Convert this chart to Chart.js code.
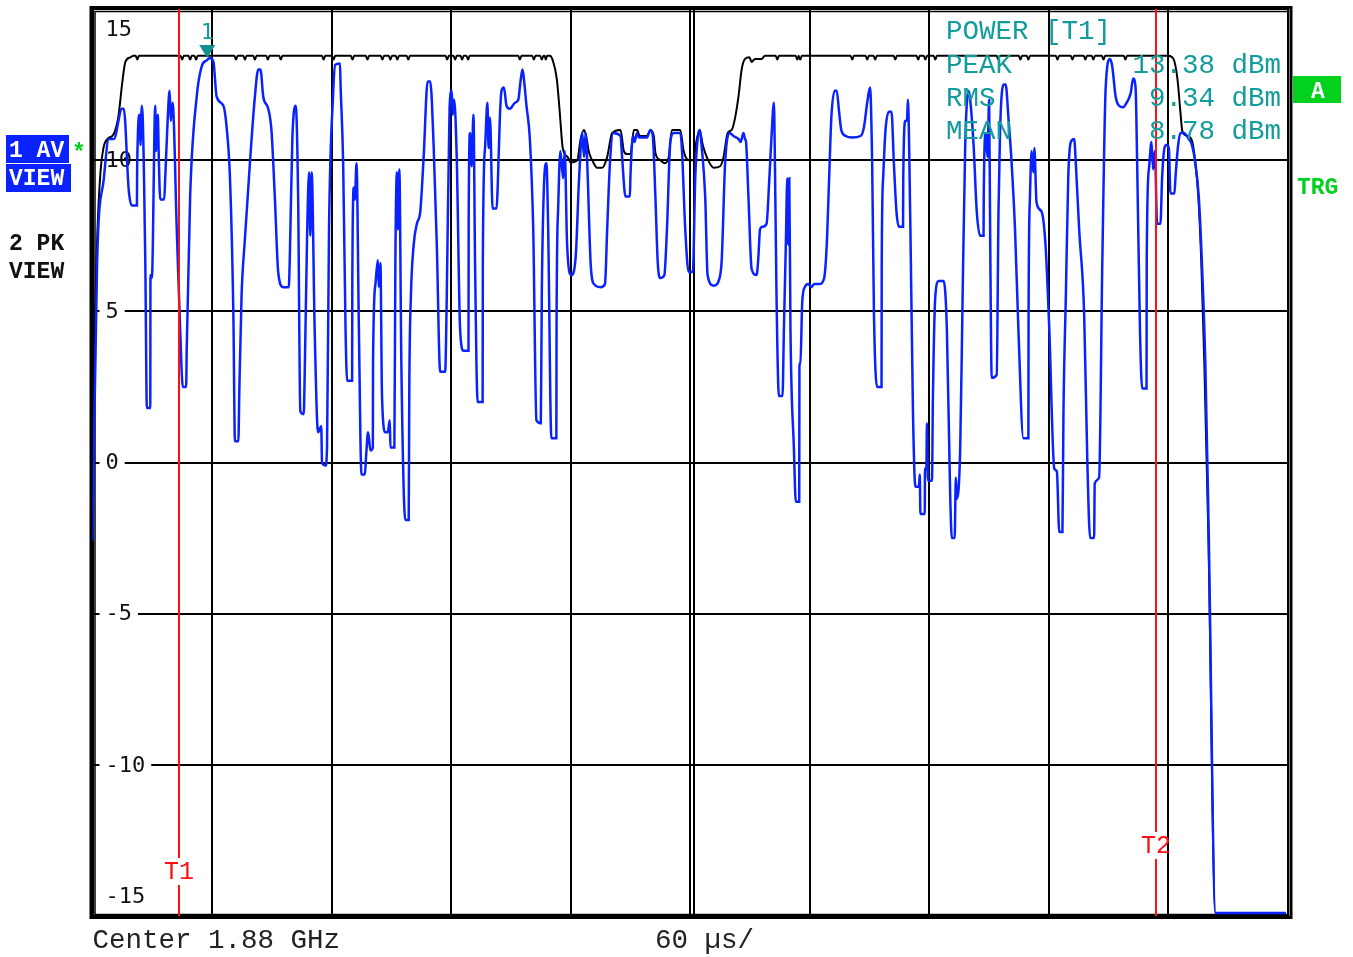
<!DOCTYPE html>
<html>
<head>
<meta charset="utf-8">
<script src="https://cdn.jsdelivr.net/npm/chart.js@4.4.1/dist/chart.umd.min.js"></script>
<style>
html, body { margin: 0; padding: 0; background: #fff; overflow: hidden; }
canvas { display: block; }
</style>
</head>
<body>
<canvas id="myChart" width="1353" height="957"></canvas>
<script>
// time in µs (60 µs/div, 10 div), level in dBm
var levelTicks = [15, 10, 5, 0, -5, -10, -15];
var timeTicks = [0, 60, 120, 180, 240, 300, 360, 420, 480, 540, 600];
var centreLine = 302;          // second line next to the centre division
var gateTimes = [43.4, 534];   // T1, T2
var gateNames = ['T1', 'T2'];
var markerTime = 57.6;
var markerLevel = 13.38;
var powerNames = ['PEAK', 'RMS', 'MEAN'];
var powerValues = ['13.38 dBm', '9.34 dBm', '8.78 dBm'];

// trace 1: AV (blue)
var avPoints = [
  [0,-2.6],[2.3,6.6],[5.7,9.4],[8.2,10.7],[10.7,10.7],[14.8,11.7],[15.7,11.7],[18.2,9.0],[19.8,8.5],[22.3,8.5],
  [22.4,9.7],[23.7,11.5],[24,10.5],[24.8,11.8],[26.5,6.6],[27.3,1.8],[29,1.8],[29.1,6.2],[29.8,6.1],[31.5,11.8],
  [31.8,10.3],[32.8,11.5],[33.2,10.3],[34,8.7],[36,8.7],[36.5,9.4],[37.7,11.3],[38.7,12.3],[39.3,11.3],[40.2,11.9],
  [42.3,7.7],[44,4.4],[45.3,2.5],[47,2.5],[47.3,3.8],[49,8.8],[52.3,12.1],[54.8,13.1],[57.3,13.3],[59,13.38],
  [60.7,13.25],[62.3,12.1],[65.7,11.8],[67.3,11.1],[69,9.4],[70.7,4.9],[71.5,0.7],[73.2,0.7],[73.7,2.4],[74.8,5.5],
  [76.5,7.4],[79,9.9],[81.5,12.1],[83.2,13.0],[84.3,13.0],[85.7,12.1],[88.2,11.7],[89.8,11.0],[91.5,8.8],[93.2,6.3],
  [95.7,5.8],[98.5,5.8],[99,6.7],[100.3,10.7],[102,11.8],[103.2,8.8],[104.3,1.7],[106,1.6],[106.5,2.9],[107.7,7.5],
  [108.7,9.6],[109.3,7.5],[110,9.6],[111.5,4.4],[113.2,1.0],[114.8,1.2],[115.2,0],[117,-0.1],[117.7,0.5],[118.7,7.7],
  [120.7,12.1],[121.8,13.15],[124.2,13.2],[124.5,12.5],[125.8,9.9],[127,4.4],[127.8,2.7],[130.3,2.7],[130.4,6.1],[131.2,9.1],
  [131.7,8.7],[132.5,9.9],[133.7,4.4],[135,-0.4],[136.7,-0.4],[137.3,0.2],[138.3,1.0],[139.5,0.4],[140.7,0.5],[140.8,3.3],
  [142,5.9],[143.2,6.7],[143.7,5.8],[144.5,6.6],[145.3,2.2],[147,1.0],[148.2,1.0],[149.2,1.4],[149.5,0.5],[151.5,0.5],
  [152,6.6],[152.8,9.6],[153.3,7.7],[154,9.7],[155,3.3],[157,-1.9],[158.7,-1.9],[159,2.5],[159.8,5.5],[161.2,7.2],
  [162.8,7.9],[164.5,8.3],[166.2,10.1],[168.2,12.6],[169.5,12.6],[171.2,10.5],[172.8,7.2],[174.5,3.0],[177,3.0],[177.8,5.5],
  [179.2,11.7],[180.3,12.3],[180.8,11.5],[181.5,12.0],[182.8,10.1],[184.5,4.4],[186.2,3.7],[188.7,3.7],[188.8,8.0],[189.5,10.9],
  [190.3,9.8],[191.2,11.5],[192,6.6],[193.3,2.0],[195.8,2.0],[195.9,6.6],[197,10.4],[198.2,11.9],[198.8,10.4],[199.5,11.4],
  [200.8,8.4],[202.8,8.4],[203.3,9.0],[204.5,11.5],[205.3,12.3],[206.5,12.4],[207.8,11.8],[209.5,11.7],[212,11.9],[213.7,12.0],
  [214.8,12.6],[215.8,13.0],[216.5,12.7],[217.8,11.8],[219.5,10.7],[221.2,7.7],[222.8,1.4],[225,1.3],[225.5,5.6],[226.5,9.0],
  [227.8,9.9],[228.7,7.7],[230.3,0.8],[232.8,0.8],[232.9,4.5],[233.7,8.4],[234.8,10.3],[236.2,9.4],[237,10.3],[238.2,7.2],
  [240.3,6.2],[242.5,6.8],[244.2,9.4],[245.8,10.9],[246.7,10.1],[247.5,10.9],[248.3,9.9],[250,6.6],[251.7,5.9],[255,5.8],
  [257.2,5.9],[258.3,7.7],[259.7,9.9],[261.3,10.9],[265,10.8],[265.8,10.1],[267.5,8.8],[269.7,8.8],[270,9.5],[271.3,10.8],
  [272,10.6],[273.3,10.9],[274.2,10.75],[278.3,10.75],[280,11.0],[281.2,10.8],[282.5,8.8],[283.7,6.6],[285,6.1],[287,6.2],
  [288.3,7.7],[290,10.6],[291.7,10.9],[295,10.9],[295.8,10.4],[297.5,7.7],[299.2,6.3],[301.3,6.3],[302.5,9.4],[303.7,10.7],
  [304.7,11.0],[305.8,10.4],[307.5,8.8],[308.7,6.2],[311.7,5.85],[314.7,6.1],[315.8,6.7],[317.5,9.9],[319.7,10.9],[321.7,10.8],
  [324.2,10.7],[325.3,10.6],[326.7,10.9],[327.5,10.7],[328,10.6],[329.2,8.8],[330.8,6.4],[333.3,6.2],[334.2,6.8],[335,7.7],
  [336.3,7.8],[338.3,7.9],[339.7,9.4],[340.8,10.8],[342,11.9],[342.5,9.9],[343.3,5.5],[344.5,2.2],[346.3,2.2],[347,4.4],
  [348,7.3],[348.7,9.4],[349.2,7.2],[349.7,9.4],[350.3,4.4],[352,0.5],[353,-1.3],[354.7,-1.3],[354.8,3.2],[355.3,3.3],
  [356.2,5.3],[357.5,5.8],[359.2,5.9],[360.8,5.8],[362.2,5.9],[364.7,5.9],[367.2,6.1],[368.5,7.2],[369.7,9.4],[370.8,11.4],
  [372.5,12.3],[373.5,12.3],[374.7,11.6],[375.8,11.0],[378,10.8],[381.3,10.75],[385.5,10.8],[387.2,11.1],[388.8,11.9],[390.2,12.4],
  [391.3,9.9],[392.2,4.9],[393.8,2.5],[396,2.5],[396.1,6.6],[396.8,9.4],[398,11.0],[399.7,11.6],[401,11.6],[402.2,9.9],
  [403.5,8.3],[404.7,7.8],[406.8,7.8],[406.9,9.4],[408,11.3],[408.8,11.3],[409.2,12.0],[410.5,7.7],[411.8,1.6],[413,-0.8],
  [414.7,-0.8],[415.2,-0.4],[415.5,-1.7],[417.7,-1.7],[417.8,-0.2],[418.5,-0.2],[418.8,1.3],[419.3,-0.6],[421.3,-0.6],[421.8,2.2],
  [423,5.5],[424.7,6.0],[427.2,6.0],[428.8,4.4],[430.5,-1.2],[431.3,-2.5],[432.7,-2.5],[433.3,-0.5],[433.8,-1.2],[435.5,0.5],
  [436.7,5.5],[438,10.5],[439.7,12.3],[440.5,12.0],[442.2,10.5],[443.8,8.3],[445.5,7.5],[447.2,7.5],[447.3,8.8],[448.3,10.9],
  [449.2,10.1],[450,12.0],[450.5,7.7],[451.3,2.8],[453.8,2.9],[454.7,8.3],[455.5,11.0],[457.2,12.5],[458.3,12.5],[459.7,11.4],
  [461.3,9.9],[463,7.7],[464.7,4.4],[467.2,0.8],[469.7,0.8],[469.8,4.9],[470.5,8.8],[471.3,10.3],[472.2,9.6],[472.7,10.4],
  [473.8,8.6],[476.3,8.3],[478.3,7.2],[480.2,4.4],[482.7,-0.2],[484,-0.3],[485.2,-2.3],[486.8,-2.3],[487.3,1.6],[488.5,5.5],
  [489.7,9.4],[491,10.6],[492.7,10.7],[493.5,9.9],[495.2,7.7],[497.7,4.9],[499.3,0],[500.7,-2.5],[502.7,-2.5],[503,-0.7],
  [505.2,-0.5],[506.8,6.6],[508.5,12.4],[510.7,13.35],[511.8,13.1],[513.5,12.1],[515.2,11.8],[517.3,11.75],[519,11.9],[521,12.2],
  [522.3,12.7],[523.5,12.4],[524.3,9.9],[525.7,4.4],[526.8,2.45],[529,2.45],[529.1,6.7],[530.2,9.7],[531.5,10.6],[532.3,9.7],
  [533.2,10.3],[534.3,7.9],[536,7.9],[536.8,9.4],[538,10.4],[539,10.5],[540.2,10.4],[541,8.9],[543,8.9],[543.5,9.4],
  [544.7,10.4],[546,10.9],[547.7,10.9],[550.2,10.7],[551.8,10.5],[553.5,9.9],[555.2,8.8],[556.8,6.6],[558.5,3.3],[560.2,-2.3],
  [563.6,-14.9],[599,-14.9]
];

// trace 2: PK (black)
var pkPoints = [
  [0,-1.5],[1.5,5.4],[2.5,7.7],[4,9.6],[5.5,10.4],[7.5,10.7],[10.5,10.85],[13,11.45],[15,12.6],[16.5,13.25],[19,13.4],[20.5,13.45],
  [21.7,13.45],[22.5,13.33],[23.3,13.45],[44.2,13.45],[45,13.33],[45.8,13.45],[48.2,13.45],[49,13.33],[49.8,13.45],
  [51.2,13.45],[52,13.33],[52.8,13.45],[71.2,13.45],[72,13.33],[72.8,13.45],[75.7,13.45],[76.5,13.33],[77.3,13.45],
  [80.7,13.45],[81.5,13.33],[82.3,13.45],[87.2,13.45],[88,13.33],[88.8,13.45],[93.7,13.45],[94.5,13.33],[95.3,13.45],
  [115.2,13.45],[116,13.33],[116.8,13.45],[120.2,13.45],[121,13.33],[121.8,13.45],[129.7,13.45],[130.5,13.33],[131.3,13.45],
  [137.2,13.45],[138,13.33],[138.8,13.45],[144.7,13.45],[145.5,13.33],[146.3,13.45],[148.7,13.45],[149.5,13.33],[150.3,13.45],
  [152.2,13.45],[153,13.33],[153.8,13.45],[157.7,13.45],[158.5,13.33],[159.3,13.45],[177.2,13.45],[178,13.33],[178.8,13.45],
  [181.2,13.45],[182,13.33],[182.8,13.45],[184.7,13.45],[185.5,13.33],[186.3,13.45],[187.7,13.45],[188.5,13.33],[189.3,13.45],
  [213.7,13.45],[214.5,13.33],[215.3,13.45],[220.7,13.45],[221.5,13.33],[222.3,13.45],[224.7,13.45],[225.5,13.33],[226.3,13.45],
  [226.9,13.45],[227.5,13.33],[228.1,13.45],
  [229.5,13.45],[231,13.3],[233,12.7],[234.5,11.6],[236,10.4],[238.5,10.1],[240,9.92],
  [243.3,10.0],[245,10.7],[246.7,11.0],[248,10.7],[249.2,10.25],[250.8,10.0],[253.3,9.75],[255.8,9.75],[258.3,10.1],[260.8,10.9],
  [265,11.0],[266.7,10.3],[268.3,10.2],[270,10.2],[271.7,11.0],[273.3,11.0],[274.7,10.8],[278.3,10.8],[280,11.0],[281.7,10.8],
  [282.5,10.25],[285,10.0],[287.2,9.9],[289.2,10.1],[290.8,11.0],[295,11.0],[296.7,10.3],[299.2,10.0],[301.7,10.0],[303,10.6],
  [304.7,11.0],[306.3,10.5],[308.3,10.1],[311.7,9.75],[315,9.8],[316.7,10.1],[318.8,10.9],[320.8,11.0],[322.5,11.4],[324.2,12.1],
  [325.8,13.0],[327.5,13.35],[329.7,13.4],[330.8,13.25],[332.5,13.35],[335.8,13.35],[337.5,13.45],
  [342.9,13.45],[343.7,13.33],[344.5,13.45],[352.9,13.45],[353.7,13.33],[354.4,13.45],[355.2,13.33],[356,13.45],
  [380.5,13.45],[381.3,13.33],[382.1,13.45],[388,13.45],[388.8,13.33],[389.6,13.45],[392,13.45],[392.8,13.33],[393.6,13.45],
  [402.1,13.45],[402.9,13.33],[403.7,13.45],[413.6,13.45],[414.4,13.33],[415.2,13.45],[417.2,13.45],[418,13.33],[418.8,13.45],
  [422.2,13.45],[423,13.33],[423.8,13.45],[453.8,13.45],[454.6,13.33],[455.4,13.45],[464.9,13.45],[465.7,13.33],[466.5,13.45],
  [468.9,13.45],[469.7,13.33],[470.5,13.45],[483.5,13.45],[484.3,13.33],[485.1,13.45],[491,13.45],[491.8,13.33],[492.6,13.45],
  [497.5,13.45],[498.3,13.33],[499.1,13.45],[501.5,13.45],[502.3,13.33],[503.1,13.45],[506.6,13.45],[507.4,13.33],[508.2,13.45],
  [517.6,13.45],[518.4,13.33],[519.2,13.45],
  [540,13.45],[542.5,13.35],[544.5,12.7],[546,11.6],[547,10.95],[549.5,10.8],[552,10.6],[553.5,9.9],[555,8.8],[556.5,6.6],
  [558,3.3],[560,-2.3],[563.6,-14.9],[599,-14.9]
];

var teal = '#129c9c';
var traceBlue = '#0a22ff';
var green = '#00d21e';

var screenPlugin = {
  id: 'screen',
  beforeDatasetsDraw: function(chart) {
    var c = chart.ctx, a = chart.chartArea, x = chart.scales.x, y = chart.scales.y;
    c.save();
    c.strokeStyle = '#000';
    c.lineWidth = 2;
    var cx = Math.round(x.getPixelForValue(centreLine));
    c.beginPath(); c.moveTo(cx, a.top); c.lineTo(cx, a.bottom); c.stroke();

    // frame (double line)
    c.lineWidth = 3;
    c.strokeRect(a.left - 1.5, a.top - 1.5, a.right - a.left + 4.5, a.bottom - a.top + 3);
    c.lineWidth = 1.5;
    c.strokeRect(a.left + 2.5, a.top + 2.5, a.right - a.left - 2.5, a.bottom - a.top - 4);

    // level labels inside the grid
    c.font = '22px "DejaVu Sans Mono"';
    c.textBaseline = 'middle';
    c.textAlign = 'left';
    levelTicks.forEach(function(v, i) {
      var txt = String(v);
      var py = y.getPixelForValue(v);
      if (i === 0) py += 20;
      if (i === levelTicks.length - 1) py -= 20;
      var tx = a.left + 13;
      if (i > 1 && i < levelTicks.length - 1) {
        c.fillStyle = '#fff';
        c.fillRect(tx - 6, py - 3, c.measureText(txt).width + 12, 6);
      }
      c.fillStyle = '#111';
      c.fillText(txt, tx, py + 1);
    });
    c.restore();
  },
  afterDatasetsDraw: function(chart) {
    var c = chart.ctx, a = chart.chartArea, x = chart.scales.x, y = chart.scales.y;
    c.save();
    // gate lines
    var labelY = [872, 846];
    c.font = '25px "Liberation Mono"';
    c.textAlign = 'center';
    c.textBaseline = 'middle';
    gateTimes.forEach(function(t, i) {
      var px = Math.round(x.getPixelForValue(t));
      c.strokeStyle = '#ff1010';
      c.lineWidth = 2;
      c.beginPath();
      c.moveTo(px, a.top); c.lineTo(px, labelY[i] - 14);
      c.moveTo(px, labelY[i] + 13); c.lineTo(px, a.bottom);
      c.stroke();
      c.fillStyle = '#ff1010';
      c.fillText(gateNames[i], px, labelY[i]);
    });

    // marker 1
    var mx = x.getPixelForValue(markerTime), my = y.getPixelForValue(markerLevel);
    c.fillStyle = '#0e9090';
    c.beginPath();
    c.moveTo(mx - 8, my - 13); c.lineTo(mx + 8, my - 13); c.lineTo(mx, my); c.closePath();
    c.fill();
    c.fillStyle = teal;
    c.font = '22px "DejaVu Sans Mono"';
    c.fillText('1', mx, my - 25);
    c.restore();
  },
  afterDraw: function(chart) {
    var c = chart.ctx, a = chart.chartArea;
    c.save();
    c.textAlign = 'left';
    c.textBaseline = 'alphabetic';

    // bottom line
    c.fillStyle = '#222';
    c.font = '27.5px "Liberation Mono"';
    c.fillText('Center 1.88 GHz', a.left, 948);
    c.fillText('60 \u00b5s/', 655, 948);

    // channel power readout
    c.fillStyle = teal;
    c.fillText('POWER [T1]', 946, 39);
    powerNames.forEach(function(n, i) {
      c.textAlign = 'left';
      c.fillText(n, 946, 73 + i * 33);
      c.textAlign = 'right';
      c.fillText(powerValues[i], 1281, 73 + i * 33);
    });

    // trace labels on the left
    c.textAlign = 'left';
    c.font = 'bold 23px "Liberation Mono"';
    c.fillStyle = traceBlue;
    c.fillRect(6, 135, 63, 28);
    c.fillRect(6, 164, 65, 28);
    c.fillStyle = '#fff';
    c.fillText('1 AV', 9, 157);
    c.fillText('VIEW', 9, 185);
    c.fillStyle = green;
    c.fillText('*', 72, 160);
    c.fillStyle = '#111';
    c.fillText('2 PK', 9, 250);
    c.fillText('VIEW', 9, 278);

    // right side flags
    c.fillStyle = green;
    c.fillRect(1293, 76, 48, 27);
    c.fillText('TRG', 1297, 194);
    c.fillStyle = '#fff';
    c.textAlign = 'center';
    c.fillText('A', 1318, 98);
    c.restore();
  }
};

var ctx = document.getElementById('myChart').getContext('2d');
var chart = new Chart(ctx, {
  type: 'line',
  data: {
    datasets: [{
      label: '1 AV',
      data: avPoints.map(function(p) { return { x: p[0], y: p[1] }; }),
      borderColor: traceBlue,
      borderWidth: 2.5,
      pointRadius: 0,
      cubicInterpolationMode: 'monotone',
      fill: false
    },
    {
      label: '2 PK',
      data: pkPoints.map(function(p) { return { x: p[0], y: p[1] }; }),
      borderColor: '#000',
      borderWidth: 2,
      pointRadius: 0,
      cubicInterpolationMode: 'monotone',
      fill: false
    }]
  },
  options: {
    responsive: false,
    animation: false,
    devicePixelRatio: 1,
    layout: { padding: { left: 92.5, right: 65, top: 9, bottom: 41 } },
    scales: {
      x: {
        type: 'linear', min: 0, max: 600,
        afterBuildTicks: function(s) { s.ticks = timeTicks.map(function(v) { return { value: v }; }); },
        afterFit: function(s) { s.height = 0; },
        ticks: { display: false },
        grid: { color: '#000', lineWidth: 2, drawTicks: false },
        border: { display: false }
      },
      y: {
        type: 'linear', min: -15, max: 15,
        afterBuildTicks: function(s) { s.ticks = levelTicks.map(function(v) { return { value: v }; }); },
        afterFit: function(s) { s.width = 0; },
        ticks: { display: false },
        grid: { color: '#000', lineWidth: 2, drawTicks: false },
        border: { display: false }
      }
    },
    plugins: { legend: { display: false }, tooltip: { enabled: false } }
  },
  plugins: [screenPlugin]
});
</script>
</body>
</html>
